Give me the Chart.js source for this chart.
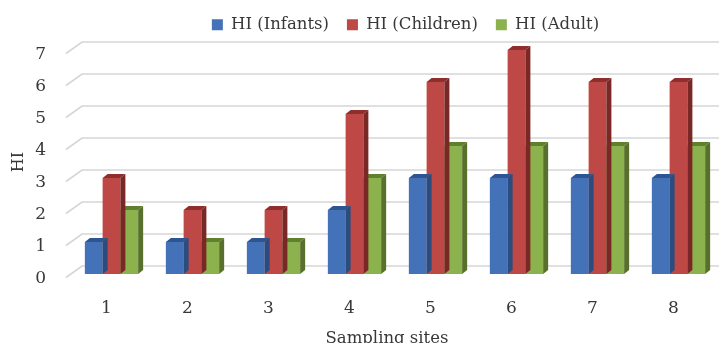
<!DOCTYPE html>
<html>
<head>
<meta charset="utf-8">
<script src="https://cdn.jsdelivr.net/npm/chart.js@4/dist/chart.umd.min.js"></script>
<style>
  html, body { margin: 0; padding: 0; background: #ffffff; }
  #wrap { width: 719px; height: 343px; }
</style>
</head>
<body>
<div id="wrap"><canvas id="c" width="719" height="343"></canvas></div>
<script>
// Hazard index per sampling site
const sites = ['1', '2', '3', '4', '5', '6', '7', '8'];
const hiInfants  = [1, 1, 1, 2, 3, 3, 3, 3];
const hiChildren = [3, 2, 2, 5, 6, 7, 6, 6];
const hiAdult    = [2, 1, 1, 3, 4, 4, 4, 4];
const yTicks = [0, 1, 2, 3, 4, 5, 6, 7];
const xTitle = 'Sampling sites';

const FONT = "'DejaVu Serif', serif";
const TEXT = '#383838';

// face colours: front, side, top
const palette = [
  { front: '#4472B8', side: '#2B4C7E', top: '#2F5590' },
  { front: '#BE4845', side: '#7A2826', top: '#8E2F2D' },
  { front: '#8CB24D', side: '#57712C', top: '#61802F' }
];

const DX = 5, DY = -4;      // depth of the 3-D boxes
const WALL = 8;             // back wall sits this far above the front edge
const LEGEND_EXTRA = 5.5;   // extra gap between legend and plot
const LEGEND_SHIFT = { x: 46, y: -1.5 };

const box3d = {
  id: 'box3d',
  beforeLayout(chart) {
    const lg = chart.legend;
    if (lg && !lg._extraFit) {
      const fit = lg.fit.bind(lg);
      lg.fit = function () { fit(); this.height += LEGEND_EXTRA; };
      lg._extraFit = true;
    }
  },
  afterLayout(chart) {
    const lg = chart.legend;
    if (lg) {
      lg.left += LEGEND_SHIFT.x; lg.right += LEGEND_SHIFT.x;
      lg.top += LEGEND_SHIFT.y; lg.bottom += LEGEND_SHIFT.y;
    }
  },
  beforeDatasetsDraw(chart) {
    const { ctx, chartArea: a, scales: { y } } = chart;
    ctx.save();
    ctx.strokeStyle = '#d6d6d6';
    ctx.lineWidth = 1.6;
    y.ticks.forEach(t => {
      const py = y.getPixelForValue(t.value);
      ctx.beginPath();
      ctx.moveTo(a.left - 5, py + 3.5);
      ctx.lineTo(a.left + 11, py - WALL);
      ctx.lineTo(chart.width, py - WALL);
      ctx.stroke();
    });
    ctx.restore();
  },
  afterDatasetDraw(chart, args) {
    const { ctx } = chart;
    const col = palette[args.index];
    ctx.save();
    args.meta.data.forEach(bar => {
      const { x, y, base, width } = bar.getProps(['x', 'y', 'base', 'width'], true);
      const l = x - width / 2, r = x + width / 2;
      // top face
      ctx.fillStyle = col.top;
      ctx.beginPath();
      ctx.moveTo(l, y);
      ctx.lineTo(l + DX, y + DY);
      ctx.lineTo(r + DX, y + DY);
      ctx.lineTo(r, y);
      ctx.closePath();
      ctx.fill();
      // right side face
      ctx.fillStyle = col.side;
      ctx.beginPath();
      ctx.moveTo(r, y);
      ctx.lineTo(r + DX, y + DY);
      ctx.lineTo(r + DX, base + DY);
      ctx.lineTo(r, base);
      ctx.closePath();
      ctx.fill();
    });
    ctx.restore();
  },
  afterDraw(chart) {
    // x-axis title below the category labels
    const { ctx, scales: { x } } = chart;
    ctx.save();
    ctx.font = "16.5px " + FONT;
    ctx.fillStyle = TEXT;
    ctx.textAlign = 'left';
    ctx.textBaseline = 'alphabetic';
    ctx.fillText(xTitle, x.getPixelForValue(3) - 29, 342.5);
    ctx.restore();
  }
};

new Chart(document.getElementById('c'), {
  type: 'bar',
  data: {
    labels: sites,
    datasets: [
      { label: 'HI (Infants)',  data: hiInfants,  backgroundColor: palette[0].front },
      { label: 'HI (Children)', data: hiChildren, backgroundColor: palette[1].front },
      { label: 'HI (Adult)',    data: hiAdult,    backgroundColor: palette[2].front }
    ]
  },
  options: {
    responsive: false,
    animation: false,
    devicePixelRatio: 1,
    layout: { padding: { top: 0, left: 0, right: 0, bottom: 0 } },
    datasets: { bar: { barPercentage: 1, categoryPercentage: 0.658 } },
    plugins: {
      legend: {
        position: 'top',
        labels: {
          font: { family: FONT, size: 16.5 },
          color: TEXT,
          boxWidth: 11,
          boxHeight: 11,
          padding: 18
        }
      },
      tooltip: { enabled: false }
    },
    scales: {
      x: {
        grid: { display: false, drawTicks: false },
        border: { display: false },
        ticks: { font: { family: FONT, size: 17 }, color: TEXT, padding: 24, labelOffset: -5 },
        title: { display: false },
        afterFit: s => { s.height = 69; }
      },
      y: {
        min: 0,
        max: 7,
        afterBuildTicks: s => { s.ticks = yTicks.map(v => ({ value: v })); },
        grid: { display: false, drawTicks: false },
        border: { display: false },
        ticks: { font: { family: FONT, size: 17 }, color: TEXT, padding: 25, labelOffset: 4.5 },
        title: { display: true, text: 'HI', font: { family: FONT, size: 16 }, color: TEXT, padding: { top: 9, bottom: 0 } },
        afterFit: s => { s.width = 71; }
      }
    }
  },
  plugins: [box3d]
});
</script>
</body>
</html>
